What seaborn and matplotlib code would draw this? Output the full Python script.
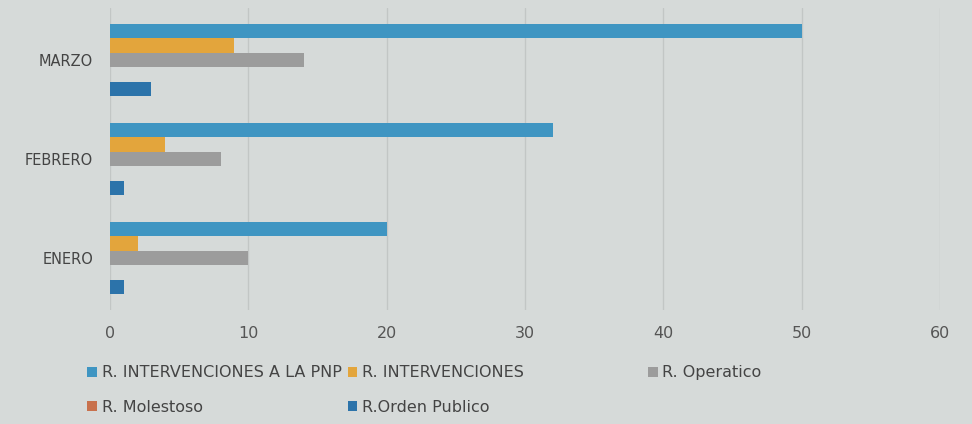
import matplotlib
matplotlib.use("Agg")
import matplotlib.pyplot as plt
import seaborn as sns
import pandas as pd

meses = ["MARZO", "FEBRERO", "ENERO"]
series = ["R. INTERVENCIONES A LA PNP", "R. INTERVENCIONES", "R. Operatico",
          "R. Molestoso", "R.Orden Publico"]
pnp = [50, 32, 20]
intervenciones = [9, 4, 2]
operatico = [14, 8, 10]
molestoso = [0, 0, 0]
orden_publico = [3, 1, 1]
x_ticks = [0, 10, 20, 30, 40, 50, 60]

colores = ["#3f95c2", "#e3a53c", "#9c9c9c", "#c8714d", "#2c73aa"]

valores = [pnp, intervenciones, operatico, molestoso, orden_publico]
rows = []
for s, vals in zip(series, valores):
    for m, v in zip(meses, vals):
        rows.append({"mes": m, "serie": s, "valor": v})
df = pd.DataFrame(rows)

sns.set_theme(style="white")
plt.rcParams['font.family'] = ['DejaVu Sans']
bg = "#d6dad9"
fig = plt.figure(figsize=(9.72, 4.24), dpi=100, facecolor=bg)
ax = fig.add_axes([0.113, 0.27, 0.854, 0.71])
ax.set_facecolor(bg)

sns.barplot(data=df, x="valor", y="mes", hue="serie", order=meses,
            hue_order=series, palette=colores, width=0.73, gap=0.0,
            saturation=1, linewidth=0, ax=ax, legend=True)

ax.set_xlim(0, 60)
ax.set_ylim(2.52, -0.52)
ax.set_xticks(x_ticks)
ax.set_xticklabels([str(t) for t in x_ticks])
ax.grid(axis="x", color="#c2c6c5", linewidth=1)
ax.grid(axis="y", visible=False)
ax.set_axisbelow(True)
for sp in ax.spines.values():
    sp.set_visible(False)
ax.tick_params(axis="x", colors="#555555", labelsize=11.5, pad=12, length=0)
ax.tick_params(axis="y", colors="#444444", labelsize=10.5, pad=12, length=0)
ax.set_xlabel("")
ax.set_ylabel("")

handles, labels = ax.get_legend_handles_labels()
ax.get_legend().remove()
h = dict(zip(labels, handles))
common = dict(frameon=False, fontsize=11.5, handlelength=0.6,
              handleheight=0.6, handletextpad=0.3, labelcolor="#444444",
              labelspacing=1.2)
order12 = [series[0], series[3], series[1], series[4]]
fig.legend([h[l] for l in order12], order12, loc="upper left",
           bbox_to_anchor=(0.075, 0.172), ncol=2, columnspacing=0.4, **common)
fig.legend([h[series[2]]], [series[2]], loc="upper left",
           bbox_to_anchor=(0.652, 0.172), ncol=1, **common)

fig.savefig("out.png", dpi=100, facecolor=bg)
